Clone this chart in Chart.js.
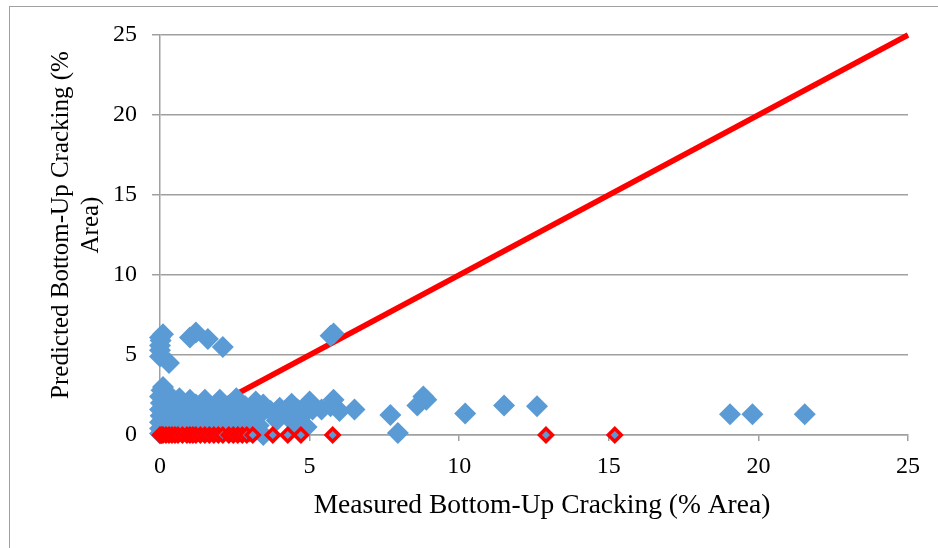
<!DOCTYPE html>
<html>
<head>
<meta charset="utf-8">
<script src="https://cdn.jsdelivr.net/npm/chart.js@4.4.1/dist/chart.umd.min.js"></script>
<style>
  body { margin: 0; background: #fff; overflow: hidden; }
  #frame { position: absolute; left: 9px; top: 6px; width: 1000px; height: 700px; border: 1px solid #a0a0a0; }
  #wrap { position: absolute; left: 0; top: 0; width: 938px; height: 548px; }
</style>
</head>
<body>
<div id="frame"></div>
<div id="wrap"><canvas id="myChart"></canvas></div>
<script>
// 軸ラベル
const xTitle = 'Measured Bottom-Up Cracking (% Area)';
const yTitle = ['Predicted Bottom-Up Cracking (%', 'Area)'];
const axisTicks = [0, 5, 10, 15, 20, 25];

// 測定値 vs 予測値 (青)  [measured, predicted]
const allSections = [
  [0,0.1],[0,0.4],[0,0.8],[0.02,1.2],[0,1.6],[0.03,2.0],[0,2.4],[0.05,2.8],[0.1,3.0],
  [0,4.9],[0,5.3],[0,5.6],[0.02,5.9],[0,6.1],[0.1,6.3],[0.3,4.5],
  [0.3,0.2],[0.35,0.9],[0.4,1.5],[0.45,2.2],[0.3,2.5],[0.6,0.5],[0.55,1.2],[0.6,1.9],[0.65,2.3],
  [0.9,0.3],[0.95,1.0],[1.0,1.6],[1.0,2.2],[1.2,0.7],[1.25,1.3],[1.2,1.9],
  [1.5,0.2],[1.5,0.9],[1.55,1.5],[1.5,2.2],[1.75,0.5],[1.8,1.2],[1.8,1.8],
  [2.0,0.3],[2.05,1.0],[2.0,1.6],[2.0,2.2],[2.3,0.6],[2.3,1.3],[2.35,1.9],
  [2.5,0.2],[2.55,0.9],[2.5,1.6],[2.55,2.3],[2.8,0.5],[2.8,1.2],[2.85,1.8],
  [3.0,0.2],[3.05,0.9],[3.1,1.5],[3.2,2.1],[3.3,0.6],[3.35,1.3],[3.45,1.9],[3.45,0.0],
  [3.7,1.5],[3.9,0.9],[4.0,1.7],[4.2,1.3],[4.4,1.95],[4.5,0.7],[4.7,1.1],[4.6,1.6],
  [5.0,2.1],[4.9,0.5],[5.1,1.6],[5.4,1.6],[5.8,2.2],[5.7,1.8],[6.0,1.5],[6.5,1.6],
  [5.7,6.2],[5.8,6.35],
  [1.0,6.1],[1.2,6.4],[1.6,6.0],[2.1,5.5],
  [7.7,1.25],[7.95,0.12],[8.6,1.85],[8.8,2.4],[8.9,2.2],[10.2,1.35],[11.5,1.85],[12.6,1.8],
  [19.05,1.3],[19.8,1.3],[21.55,1.3]
];

// 予測ゼロの区間 (赤枠)
const zeroMeasured = [0,0.05,0.1,0.2,0.3,0.4,0.5,0.6,0.75,0.9,1.0,1.1,1.2,1.35,1.5,1.65,1.8,1.95,2.1,2.3,2.45,2.6,2.75,2.9,3.1,3.77,4.27,4.71,5.77,12.9,15.2];

// 1:1 ライン
const lineOfEquality = [0, 25];

const serif = "'Liberation Serif', 'Times New Roman', serif";

// 軸タイトルを描く
const titlePlugin = {
  id: 'titles',
  afterDraw(chart) {
    const ctx = chart.ctx;
    ctx.save();
    ctx.fillStyle = '#000';
    ctx.textAlign = 'center';
    ctx.textBaseline = 'middle';
    ctx.font = '27.5px ' + serif;
    ctx.fillText(xTitle, 542, 506);
    ctx.rotate(-Math.PI / 2);
    ctx.font = '25px ' + serif;
    ctx.fillText(yTitle[0], -225, 61);
    ctx.fillText(yTitle[1], -225, 91);
    ctx.restore();
  }
};

var ctx = document.getElementById('myChart').getContext('2d');
var myChart = new Chart(ctx, {
  type: 'scatter',
  data: {
    datasets: [
      {
        type: 'line',
        data: lineOfEquality.map(v => ({x: v, y: v})),
        borderColor: '#ff0000',
        borderWidth: 5.5,
        pointRadius: 0,
        fill: false,
        order: 3
      },
      {
        data: allSections.map(p => ({x: p[0], y: p[1]})),
        pointStyle: 'rectRot',
        pointRadius: 11,
        backgroundColor: '#5b9bd5',
        borderColor: '#5b9bd5',
        borderWidth: 0,
        order: 2
      },
      {
        data: zeroMeasured.map(v => ({x: v, y: 0})),
        pointStyle: 'rectRot',
        pointRadius: 6.5,
        backgroundColor: '#5b9bd5',
        borderColor: '#ff0000',
        borderWidth: 3.5,
        order: 1
      }
    ]
  },
  options: {
    responsive: true,
    maintainAspectRatio: false,
    animation: false,
    clip: false,
    layout: { padding: { left: 0, top: 35, right: 30, bottom: 0 } },
    plugins: { legend: { display: false }, tooltip: { enabled: false } },
    scales: {
      x: {
        type: 'linear',
        min: 0, max: 25,
        afterFit: s => { s.height = 113; },
        afterBuildTicks: s => { s.ticks = axisTicks.map(v => ({value: v})); },
        border: { display: true, color: '#a0a0a0', width: 1.5 },
        grid: { drawOnChartArea: false, drawTicks: true, tickLength: 6, color: '#a0a0a0', lineWidth: 1.5 },
        ticks: { color: '#000', font: { family: serif, size: 24 }, padding: 11, maxRotation: 0 }
      },
      y: {
        type: 'linear',
        min: 0, max: 25,
        afterFit: s => { s.width = 160; },
        afterBuildTicks: s => { s.ticks = axisTicks.map(v => ({value: v})); },
        border: { display: true, color: '#a0a0a0', width: 1.5 },
        grid: { color: '#a0a0a0', lineWidth: 1.5, tickLength: 8 },
        ticks: { color: '#000', font: { family: serif, size: 24 }, padding: 15 }
      }
    }
  },
  plugins: [titlePlugin]
});
</script>
</body>
</html>
